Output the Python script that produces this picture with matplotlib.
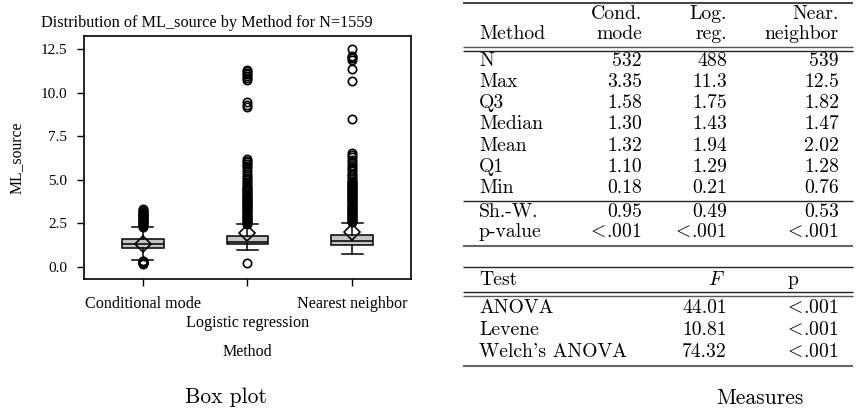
import matplotlib
matplotlib.use("Agg")
import matplotlib.pyplot as plt

plt.rcParams['font.family'] = ['Liberation Serif', 'DejaVu Serif']
plt.rcParams['mathtext.fontset'] = 'cm'

# ---- data -------------------------------------------------------------
methods = ['Conditional mode', 'Logistic regression', 'Nearest neighbor']
col_head1 = ['Cond.', 'Log.', 'Near.']
col_head2 = ['mode', 'reg.', 'neighbor']

n_obs = [532, 488, 539]
max_vals = [3.35, 11.3, 12.5]
q3_vals = [1.58, 1.75, 1.82]
median_vals = [1.30, 1.43, 1.47]
mean_vals = [1.32, 1.94, 2.02]
q1_vals = [1.10, 1.29, 1.28]
min_vals = [0.18, 0.21, 0.76]
shapiro_w = [0.95, 0.49, 0.53]
shapiro_p = ['<.001', '<.001', '<.001']

whisker_lo = [0.40, 1.00, 0.76]
whisker_hi = [2.28, 2.44, 2.50]

fliers_cond = [0.18, 0.20, 0.22, 0.24, 0.26, 0.28, 0.30, 0.33, 0.36,
               2.31, 2.36, 2.41, 2.46, 2.51, 2.56, 2.61, 2.66, 2.71, 2.76,
               2.81, 2.86, 2.91, 2.96, 3.01, 3.06, 3.11, 3.16, 3.22, 3.28,
               3.35]
fliers_logreg = [0.21,
                 2.47, 2.53, 2.59, 2.65, 2.71, 2.77, 2.83, 2.89, 2.95, 3.01,
                 3.07, 3.13, 3.19, 3.25, 3.31, 3.37, 3.43, 3.49, 3.55, 3.61,
                 3.67, 3.73, 3.79, 3.85, 3.91, 3.97, 4.03, 4.09, 4.15, 4.21,
                 4.27, 4.33, 4.39, 4.45, 4.52, 4.60, 4.70, 4.80, 4.90, 5.00,
                 5.10, 5.22, 5.35, 5.50, 5.65, 5.78, 5.90, 6.00, 6.10, 6.18,
                 9.15, 9.30, 9.45, 10.75, 10.85, 10.95, 11.05, 11.15, 11.25,
                 11.30]
fliers_near = [2.56, 2.62, 2.68, 2.74, 2.80, 2.86, 2.92, 2.98, 3.04, 3.10,
               3.16, 3.22, 3.28, 3.34, 3.40, 3.46, 3.52, 3.58, 3.64, 3.70,
               3.76, 3.82, 3.88, 3.94, 4.00, 4.06, 4.12, 4.18, 4.24, 4.30,
               4.36, 4.42, 4.48, 4.54, 4.60, 4.66, 4.72, 4.78, 4.84, 4.90,
               4.96, 5.05, 5.15, 5.25, 5.35, 5.48, 5.60, 5.72, 5.85, 6.00,
               6.15, 6.30, 6.42, 6.55, 8.50, 10.65, 11.35, 11.90, 11.97,
               12.04, 12.12, 12.50]
fliers_all = [fliers_cond, fliers_logreg, fliers_near]

yticks = [0.0, 2.5, 5.0, 7.5, 10.0, 12.5]

test_names = ['ANOVA', 'Levene', "Welch's ANOVA"]
test_f = [44.01, 10.81, 74.32]
test_p = ['<.001', '<.001', '<.001']

# ---- figure -----------------------------------------------------------
W, H = 857, 412
fig = plt.figure(figsize=(W / 100, H / 100), dpi=100)


def fx(px):
    return px / W


def fy(py):
    return 1 - py / H


# box plot panel
ax = fig.add_axes([fx(84), fy(279), fx(411) - fx(84), fy(36) - fy(279)])
stats = []
for i, name in enumerate(methods):
    stats.append(dict(label=name, q1=q1_vals[i], med=median_vals[i],
                      q3=q3_vals[i], mean=mean_vals[i],
                      whislo=whisker_lo[i], whishi=whisker_hi[i],
                      fliers=fliers_all[i]))

lw = 1.1
positions = [1, 2, 3]
ax.bxp(stats, positions=positions, widths=0.4, patch_artist=True,
       showmeans=True, capwidths=0.2,
       boxprops=dict(facecolor='#c4c4c4', edgecolor='black', linewidth=lw),
       medianprops=dict(color='black', linewidth=lw),
       whiskerprops=dict(color='black', linewidth=lw),
       capprops=dict(color='black', linewidth=lw),
       flierprops=dict(marker='o', markersize=6, markerfacecolor='none',
                       markeredgecolor='black', markeredgewidth=1.2),
       meanprops=dict(marker='D', markersize=8, markerfacecolor='none',
                      markeredgecolor='black', markeredgewidth=1.2))

ax.set_xlim(0.44, 3.56)
ax.set_ylim(-0.69, 13.25)
ax.set_yticks(yticks)
ax.set_yticklabels([f'{v:.1f}' for v in yticks], fontsize=11)
ax.set_xticks(positions)
# the middle category label sits on a second, staggered row
ax.set_xticklabels([methods[0], '', methods[2]], fontsize=11.6)
ax.annotate(methods[1], xy=(positions[1], 0),
            xycoords=('data', 'axes fraction'), xytext=(0, -31.5),
            textcoords='offset points', ha='center', va='center',
            fontsize=11.6, annotation_clip=False)
ax.tick_params(axis='both', direction='out', length=5, width=1.0,
               color='black')
ax.tick_params(axis='x', pad=7)
ax.tick_params(axis='y', pad=7)
for s in ax.spines.values():
    s.set_linewidth(1.2)

fig.text(fx(207), fy(23), 'Distribution of ML_source by Method for N=1559',
         ha='center', va='center', fontsize=11.7)
fig.text(fx(17), fy(158), 'ML_source', rotation=90, ha='center',
         va='center', fontsize=11.3)
fig.text(fx(247), fy(352), 'Method', ha='center', va='center', fontsize=11.5)

# overlay for captions and the table, in pixel coordinates
ov = fig.add_axes([0, 0, 1, 1], facecolor='none')
ov.set_xlim(0, W)
ov.set_ylim(H, 0)
ov.axis('off')

cm = dict(family='cmr10', fontsize=14.2)
ov.text(226, 397, 'Box plot', ha='center', va='center', family='cmr10',
        fontsize=15.5)
ov.text(760, 398, 'Measures', ha='center', va='center', family='cmr10',
        fontsize=15.5)

x_label = 479
x_cols = [642, 727, 839]
x0, x1 = 463, 853


def rule(y, lw=1.0, color='#222222'):
    ov.plot([x0, x1], [y, y], color=color, linewidth=lw,
            solid_capstyle='butt')


def lt(s):
    return s.replace('<', r'$<\!$')


# first table: descriptive measures
rule(3, 1.2)
for j in range(3):
    ov.text(x_cols[j], 14, col_head1[j], ha='right', va='center', **cm)
    ov.text(x_cols[j], 34, col_head2[j], ha='right', va='center', **cm)
ov.text(x_label, 34, 'Method', ha='left', va='center', **cm)
rule(46.5, 1.0, '#555555')
rule(50.5, 1.0)

rows = [('N', [str(v) for v in n_obs]),
        ('Max', [f'{v:.3g}' for v in max_vals]),
        ('Q3', [f'{v:.2f}' for v in q3_vals]),
        ('Median', [f'{v:.2f}' for v in median_vals]),
        ('Mean', [f'{v:.2f}' for v in mean_vals]),
        ('Q1', [f'{v:.2f}' for v in q1_vals]),
        ('Min', [f'{v:.2f}' for v in min_vals])]
row_y = [61, 82, 103, 124, 146, 167, 188]
for (lab, vals), y in zip(rows, row_y):
    ov.text(x_label, y, lab, ha='left', va='center', **cm)
    for j in range(3):
        ov.text(x_cols[j], y, vals[j], ha='right', va='center', **cm)
rule(201, 1.0)

ov.text(x_label, 212, 'Sh.-W.', ha='left', va='center', **cm)
ov.text(x_label, 232, 'p-value', ha='left', va='center', **cm)
for j in range(3):
    ov.text(x_cols[j], 212, f'{shapiro_w[j]:.2f}', ha='right', va='center',
            **cm)
    ov.text(x_cols[j], 232, lt(shapiro_p[j]), ha='right', va='center', **cm)
rule(246, 1.5, '#666666')

# second table: group comparison tests
rule(267, 1.0)
ov.text(x_label, 280, 'Test', ha='left', va='center', **cm)
ov.text(716, 280, r'$F$', ha='center', va='center', **cm)
ov.text(793, 280, 'p', ha='center', va='center', **cm)
rule(292, 1.0)
rule(296, 1.0, '#555555')
for i, y in enumerate([308, 330, 352]):
    ov.text(x_label, y, test_names[i], ha='left', va='center', **cm)
    ov.text(x_cols[1], y, f'{test_f[i]:.2f}', ha='right', va='center', **cm)
    ov.text(x_cols[2], y, lt(test_p[i]), ha='right', va='center', **cm)
rule(366, 1.5, '#666666')

fig.savefig('out.png', dpi=100)
